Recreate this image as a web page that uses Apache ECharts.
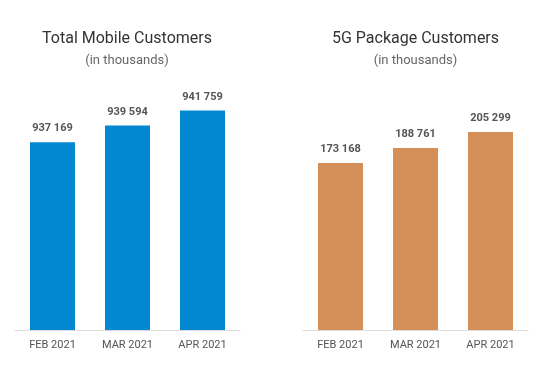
<!DOCTYPE html>
<html><head><meta charset="utf-8">
<script src="https://cdn.jsdelivr.net/npm/echarts@6/dist/echarts.min.js"></script>
<style>html,body{margin:0;padding:0;background:#fff}#c{width:550px;height:377px}</style>
</head><body><div id="c"></div>
<script>
const categories = ['FEB 2021', 'MAR 2021', 'APR 2021'];
const totalMobile = [937169, 939594, 941759];
const fiveG = [173168, 188761, 205299];
const titles = ['Total Mobile Customers', '5G Package Customers'];
const subtitle = '(in thousands)';

const fmt = v => String(v).replace(/\B(?=(\d{3})+(?!\d))/g, ' ');
const chart = echarts.init(document.getElementById('c'), null, {renderer: 'canvas'});
const font = 'Roboto, sans-serif';
const centers = [127, 415.5];
const lefts = [15, 303];
function xAxis(i) {
  return {type: 'category', gridIndex: i, data: categories,
    axisLine: {lineStyle: {color: '#dcdcdc'}}, axisTick: {show: false},
    axisLabel: {color: '#555', fontSize: 11, fontFamily: font, margin: 10}};
}
function series(i, data, color) {
  return {type: 'bar', xAxisIndex: i, yAxisIndex: i, data: data, barWidth: '60%',
    itemStyle: {color: color},
    label: {show: true, position: 'top', distance: 8, color: '#555', fontSize: 11,
      fontWeight: 'bold', fontFamily: font, formatter: p => fmt(p.value)}};
}
function title(text, x, top, size, color) {
  return {text: text, left: x, textAlign: 'center', top: top, padding: 0,
    textStyle: {fontSize: size, fontWeight: 'normal', color: color, fontFamily: font}};
}
chart.setOption({
  animation: false,
  title: [
    title(titles[0], centers[0], 31, 16, '#333'),
    title(subtitle, centers[0], 54, 13, '#666'),
    title(titles[1], centers[1], 31, 16, '#333'),
    title(subtitle, centers[1], 54, 13, '#666')
  ],
  grid: [
    {left: lefts[0], width: 225, top: 90, height: 240},
    {left: lefts[1], width: 225, top: 90, height: 240}
  ],
  xAxis: [xAxis(0), xAxis(1)],
  yAxis: [
    {type: 'value', gridIndex: 0, min: 910000, max: 944730, show: false, splitLine: {show: false}},
    {type: 'value', gridIndex: 1, min: 0, max: 248900, show: false, splitLine: {show: false}}
  ],
  series: [series(0, totalMobile, '#0288D1'), series(1, fiveG, '#D58F59')]
});
</script></body></html>
